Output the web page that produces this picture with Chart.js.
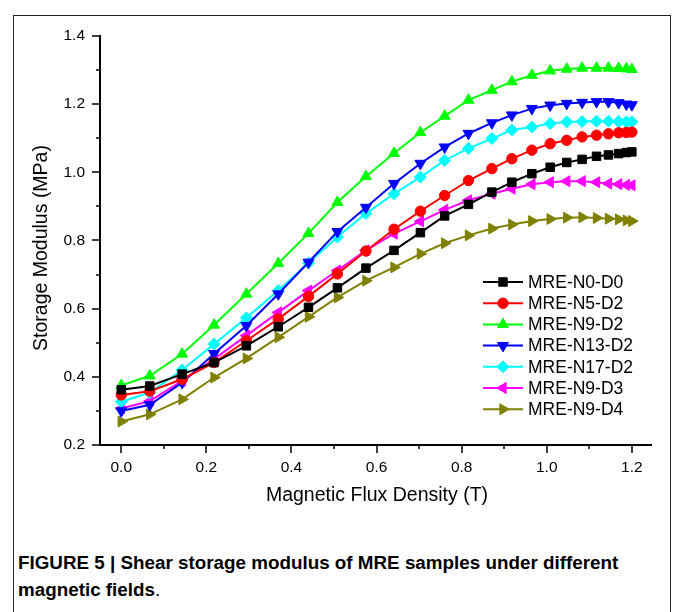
<!DOCTYPE html>
<html>
<head>
<meta charset="utf-8">
<title>Storage modulus vs flux density</title>
<script src="https://cdn.jsdelivr.net/npm/chart.js@4.4.1/dist/chart.umd.min.js"></script>
<style>
  html, body { margin: 0; padding: 0; background: #fff; width: 673px; height: 612px; overflow: hidden; font-family: "Liberation Sans", Arial, sans-serif; }
  #frame { position: absolute; left: 13px; top: 15px; width: 656px; height: 700px; border: 1px solid #222; }
  #wrap { position: absolute; left: 0; top: 0; width: 673px; height: 520px; }
  #caption { position: absolute; left: 18px; top: 550px; font-weight: bold; font-size: 17.5px; line-height: 27px; white-space: nowrap; transform-origin: 0 0; color: #000; }
</style>
</head>
<body>
<div id="frame"></div>
<div id="wrap"><canvas id="myChart"></canvas></div>
<div id="caption"><span id="cap1">FIGURE 5 | Shear storage modulus of MRE samples under different</span><br>magnetic fields<span style="font-weight:normal">.</span></div>

<script>
// magnetic flux density (T), shared by every series
const fluxDensity = [0, 0.067, 0.143, 0.218, 0.294, 0.369, 0.44, 0.508, 0.575, 0.641, 0.703, 0.76,
  0.816, 0.871, 0.918, 0.965, 1.008, 1.047, 1.083, 1.117, 1.145, 1.169, 1.187, 1.2];

const seriesNames = ["MRE-N0-D0", "MRE-N5-D2", "MRE-N9-D2", "MRE-N13-D2", "MRE-N17-D2", "MRE-N9-D3", "MRE-N9-D4"];

// storage modulus (MPa)
const n0d0 = [0.362, 0.373, 0.408, 0.442, 0.491, 0.547, 0.604, 0.661, 0.719, 0.771, 0.823, 0.872,
  0.906, 0.942, 0.971, 0.996, 1.015, 1.029, 1.038, 1.047, 1.051, 1.055, 1.058, 1.06];
const n5d2 = [0.347, 0.358, 0.393, 0.442, 0.506, 0.57, 0.636, 0.702, 0.769, 0.833, 0.886, 0.932,
  0.976, 1.011, 1.04, 1.065, 1.084, 1.094, 1.104, 1.109, 1.113, 1.116, 1.117, 1.118];
const n9d2 = [0.375, 0.403, 0.467, 0.552, 0.643, 0.733, 0.821, 0.912, 0.988, 1.056, 1.117, 1.165,
  1.212, 1.241, 1.266, 1.285, 1.298, 1.303, 1.306, 1.306, 1.306, 1.305, 1.304, 1.302];
const n13d2 = [0.30, 0.318, 0.383, 0.468, 0.55, 0.643, 0.736, 0.826, 0.897, 0.967, 1.026, 1.074,
  1.114, 1.145, 1.168, 1.187, 1.197, 1.202, 1.205, 1.207, 1.207, 1.204, 1.2, 1.198];
const n17d2 = [0.327, 0.354, 0.42, 0.496, 0.573, 0.653, 0.734, 0.81, 0.879, 0.937, 0.986, 1.035,
  1.07, 1.099, 1.124, 1.133, 1.143, 1.148, 1.149, 1.15, 1.15, 1.149, 1.148, 1.148];
const n9d3 = [0.307, 0.329, 0.388, 0.452, 0.521, 0.589, 0.653, 0.712, 0.771, 0.82, 0.856, 0.89,
  0.918, 0.937, 0.952, 0.965, 0.971, 0.974, 0.974, 0.971, 0.967, 0.965, 0.963, 0.962];
const n9d4 = [0.269, 0.29, 0.334, 0.398, 0.454, 0.516, 0.576, 0.633, 0.682, 0.721, 0.761, 0.792,
  0.815, 0.835, 0.847, 0.857, 0.863, 0.867, 0.868, 0.866, 0.864, 0.862, 0.859, 0.857];

const xTicks = [0, 0.1, 0.2, 0.3, 0.4, 0.5, 0.6, 0.7, 0.8, 0.9, 1.0, 1.1, 1.2];
const yTicks = [0.2, 0.3, 0.4, 0.5, 0.6, 0.7, 0.8, 0.9, 1.0, 1.1, 1.2, 1.3, 1.4];

const colors = ["#000000", "#ff0000", "#00ff00", "#0000ff", "#00ffff", "#ff00ff", "#808000"];
const styles = [
  { pointStyle: "rect", radius: 6, rotation: 0 },
  { pointStyle: "circle", radius: 5.2, rotation: 0 },
  { pointStyle: "triangle", radius: 6.3, rotation: 0 },
  { pointStyle: "triangle", radius: 6.3, rotation: 180 },
  { pointStyle: "rectRot", radius: 6, rotation: 0 },
  { pointStyle: "triangle", radius: 6.3, rotation: -90 },
  { pointStyle: "triangle", radius: 6.3, rotation: 90 },
];
const allSeries = [n0d0, n5d2, n9d2, n13d2, n17d2, n9d3, n9d4];

const isMajor = (v) => Math.round(v * 10) % 2 === 0;

const datasets = allSeries.map((vals, i) => ({
  label: seriesNames[i],
  data: fluxDensity.map((x, j) => ({ x: x, y: vals[j] })),
  borderColor: colors[i],
  backgroundColor: colors[i],
  borderWidth: 2,
  pointStyle: styles[i].pointStyle,
  pointRadius: styles[i].radius,
  pointRotation: styles[i].rotation,
  pointBackgroundColor: colors[i],
  pointBorderColor: colors[i],
  pointBorderWidth: 1,
  tension: 0,
  fill: false,
}));

const FONT = '"Liberation Sans", Arial, sans-serif';

const decorations = {
  id: "decorations",
  afterDraw(chart) {
    const c = chart.ctx;
    const xs = chart.scales.x;
    const ys = chart.scales.y;
    const area = chart.chartArea;
    c.save();
    // tick marks, pointing outwards
    c.strokeStyle = "#000";
    c.lineWidth = 1.5;
    xTicks.forEach((v) => {
      const px = Math.round(xs.getPixelForValue(v));
      const len = isMajor(v) ? 8 : 4;
      c.beginPath();
      c.moveTo(px, area.bottom);
      c.lineTo(px, area.bottom + len);
      c.stroke();
    });
    yTicks.forEach((v) => {
      const py = Math.round(ys.getPixelForValue(v));
      const len = isMajor(v) ? 8 : 4;
      c.beginPath();
      c.moveTo(area.left, py);
      c.lineTo(area.left - len, py);
      c.stroke();
    });

    // axis titles
    c.fillStyle = "#000";
    c.font = "19.5px " + FONT;
    c.textAlign = "center";
    c.textBaseline = "middle";
    c.fillText("Magnetic Flux Density (T)", 377, 496);
    c.save();
    c.translate(42, 248);
    c.rotate(-Math.PI / 2);
    c.fillText("Storage Modulus (MPa)", 0, 0);
    c.restore();

    // legend: line - marker - line
    c.font = "17.5px " + FONT;
    c.textAlign = "left";
    chart.data.datasets.forEach((ds, i) => {
      const y = 282 + i * 21.2;
      c.strokeStyle = ds.borderColor;
      c.lineWidth = 2;
      c.beginPath();
      c.moveTo(483, y);
      c.lineTo(523, y);
      c.stroke();
      c.fillStyle = ds.pointBackgroundColor;
      c.strokeStyle = ds.pointBorderColor;
      c.lineWidth = 1;
      Chart.helpers.drawPoint(c, { pointStyle: ds.pointStyle, radius: ds.pointRadius, rotation: ds.pointRotation, borderWidth: 1 }, 503, y);
      c.fillStyle = "#000";
      c.fillText(ds.label, 528, y + 1);
    });
    c.restore();
  },
};

const ctx = document.getElementById("myChart");
new Chart(ctx, {
  type: "line",
  data: { datasets: datasets },
  options: {
    responsive: true,
    maintainAspectRatio: false,
    animation: false,
    layout: { padding: { left: 0, top: 36, right: 22, bottom: 0 } },
    plugins: { legend: { display: false }, tooltip: { enabled: false } },
    scales: {
      x: {
        type: "linear",
        min: -0.05,
        max: 1.245,
        afterBuildTicks: (s) => { s.ticks = xTicks.map((v) => ({ value: v })); },
        afterFit: (s) => { s.height = 75; },
        grid: { display: false, drawTicks: false },
        border: { display: true, color: "#000", width: 2 },
        ticks: {
          autoSkip: false,
          maxRotation: 0,
          padding: 13,
          color: "#000",
          font: { size: 15.5, family: FONT },
          callback: (v) => (isMajor(v) ? v.toFixed(1) : ""),
        },
      },
      y: {
        type: "linear",
        min: 0.2,
        max: 1.4,
        afterBuildTicks: (s) => { s.ticks = yTicks.map((v) => ({ value: v })); },
        afterFit: (s) => { s.width = 100; },
        grid: { display: false, drawTicks: false },
        border: { display: true, color: "#000", width: 2 },
        ticks: {
          autoSkip: false,
          padding: 15,
          color: "#000",
          font: { size: 15.5, family: FONT },
          callback: (v) => (isMajor(v) ? v.toFixed(1) : ""),
        },
      },
    },
  },
  plugins: [decorations],
});

// squeeze the caption to the width it has in the figure
const cap = document.getElementById("caption");
const w = document.getElementById("cap1").offsetWidth;
cap.style.transform = "scaleX(" + (600 / w) + ")";
</script>
</body>
</html>
